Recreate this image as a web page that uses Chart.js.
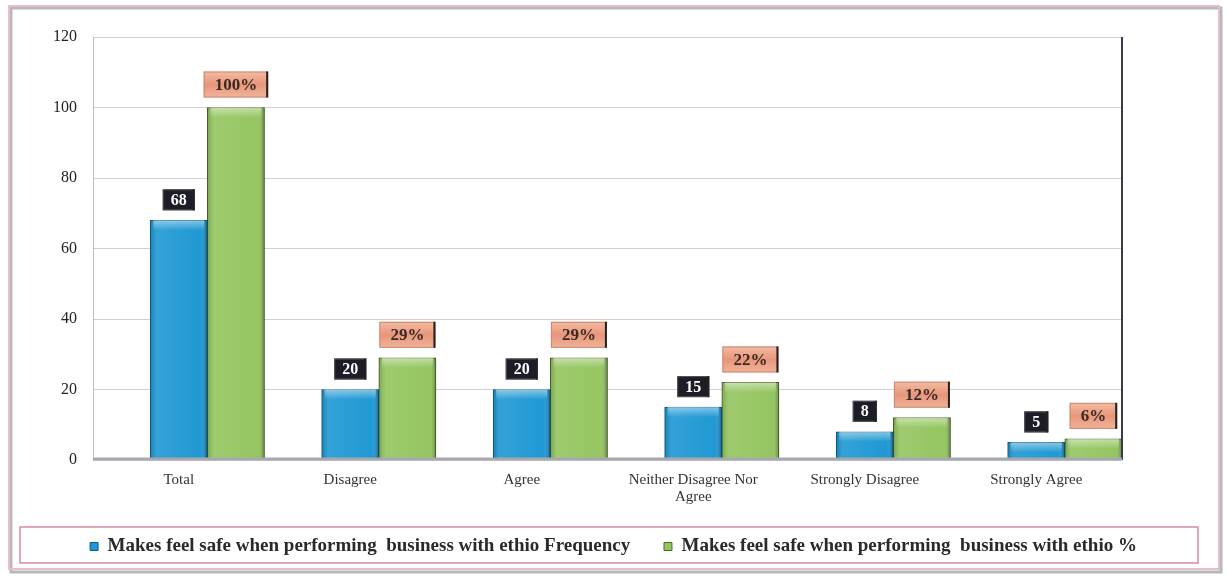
<!DOCTYPE html>
<html>
<head>
<meta charset="utf-8">
<script src="https://cdn.jsdelivr.net/npm/chart.js@4.4.1/dist/chart.umd.min.js"></script>
<style>
  html, body { margin: 0; padding: 0; background: #fff; }
  #wrap { position: relative; width: 1227px; height: 577px; }
</style>
</head>
<body>
<div id="wrap"><canvas id="myChart" width="1227" height="577"></canvas></div>
<script>
// data
const categories = ['Total', 'Disagree', 'Agree', ['Neither Disagree Nor', 'Agree'], 'Strongly Disagree', 'Strongly Agree'];
const frequency = [68, 20, 20, 15, 8, 5];
const percent = [100, 29, 29, 22, 12, 6];
const seriesNames = [
  'Makes feel safe when performing  business with ethio Frequency',
  'Makes feel safe when performing  business with ethio %',
];
const yTicks = [0, 20, 40, 60, 80, 100, 120];

const SERIF = '"Liberation Serif", "DejaVu Serif", serif';

// frame round the whole picture + box round the legend + plot right edge
const framePlugin = {
  id: 'frame',
  beforeDraw(chart) {
    const ctx = chart.ctx;
    ctx.save();
    ctx.fillStyle = '#fff';
    ctx.fillRect(0, 0, chart.width, chart.height);
    ctx.strokeStyle = '#b8b8b8';
    ctx.lineWidth = 3;
    ctx.strokeRect(11, 8, 1210, 564);
    ctx.strokeStyle = '#e7bfcc';
    ctx.lineWidth = 2;
    ctx.strokeRect(9, 6, 1210, 563);
    ctx.restore();
  },
  afterDraw(chart) {
    const ctx = chart.ctx;
    const a = chart.chartArea;
    ctx.save();
    // legend box
    ctx.strokeStyle = '#d88a9e';
    ctx.lineWidth = 1.5;
    ctx.strokeRect(20, 527, 1178, 36);
    // right edge of plot
    ctx.strokeStyle = '#3a3a48';
    ctx.lineWidth = 2;
    ctx.beginPath();
    ctx.moveTo(a.right, a.top);
    ctx.lineTo(a.right, a.bottom);
    ctx.stroke();
    // grey floor
    ctx.strokeStyle = '#a8a8b0';
    ctx.lineWidth = 3;
    ctx.beginPath();
    ctx.moveTo(a.left, a.bottom - 1);
    ctx.lineTo(a.right, a.bottom - 1);
    ctx.stroke();
    ctx.restore();
  },
};

// shading on the bars and the value boxes above them
const barLabels = {
  id: 'barLabels',
  afterDatasetsDraw(chart) {
    const ctx = chart.ctx;
    chart.data.datasets.forEach((ds, di) => {
      if (di === 0) return; // spacer slot
      const meta = chart.getDatasetMeta(di);
      meta.data.forEach((bar, i) => {
        const w = bar.width;
        const left = bar.x - w / 2;
        const h = bar.base - bar.y;
        // soft highlight, darker edges
        ctx.save();
        const g = ctx.createLinearGradient(left, 0, left + w, 0);
        g.addColorStop(0, 'rgba(0,0,0,0.18)');
        g.addColorStop(0.12, 'rgba(255,255,255,0.10)');
        g.addColorStop(0.5, 'rgba(255,255,255,0.06)');
        g.addColorStop(0.88, 'rgba(255,255,255,0.02)');
        g.addColorStop(1, 'rgba(0,0,0,0.35)');
        ctx.fillStyle = g;
        ctx.fillRect(left, bar.y, w, h);
        const t = ctx.createLinearGradient(0, bar.y, 0, bar.y + 10);
        t.addColorStop(0, 'rgba(255,255,255,0.45)');
        t.addColorStop(1, 'rgba(255,255,255,0)');
        ctx.fillStyle = t;
        ctx.fillRect(left + 3, bar.y, w - 6, Math.min(10, h));
        ctx.restore();

        // label box
        ctx.save();
        let text, bw, bh, fill, color;
        if (di === 1) {
          text = String(ds.data[i]);
          ctx.font = 'bold 16px ' + SERIF;
          bw = ctx.measureText(text).width + 16;
          bh = 21;
          fill = '#1d1d27';
          color = '#ffffff';
        } else {
          text = ds.data[i] + '%';
          ctx.font = 'bold 17px ' + SERIF;
          bw = ctx.measureText(text).width + 22;
          bh = 26;
          color = '#3a2a25';
        }
        const bx = bar.x - bw / 2;
        const by = bar.y - 10 - bh;
        if (di === 2) {
          const og = ctx.createLinearGradient(0, by, 0, by + bh);
          og.addColorStop(0, '#f3bca4');
          og.addColorStop(0.5, '#e8967a');
          og.addColorStop(1, '#f0b49a');
          fill = og;
        }
        ctx.fillStyle = fill;
        ctx.fillRect(bx, by, bw, bh);
        ctx.strokeStyle = di === 1 ? '#555' : '#c98870';
        ctx.lineWidth = 1;
        ctx.strokeRect(bx + 0.5, by + 0.5, bw - 1, bh - 1);
        ctx.fillStyle = '#222';
        ctx.fillRect(bx + bw - 2, by, 2, bh);
        ctx.fillStyle = color;
        ctx.textAlign = 'center';
        ctx.textBaseline = 'middle';
        ctx.fillText(text, bar.x, by + bh / 2 + 1);
        ctx.restore();
      });
    });
  },
};

const chart = new Chart(document.getElementById('myChart'), {
  type: 'bar',
  data: {
    labels: categories,
    datasets: [
      {
        // empty first slot, as in the original (bars sit right of the label)
        label: '',
        data: categories.map(() => null),
        backgroundColor: 'rgba(0,0,0,0)',
      },
      {
        label: seriesNames[0],
        data: frequency,
        backgroundColor: '#1c97d3',
        borderColor: '#0b5d86',
        borderWidth: 1,
        borderSkipped: 'bottom',
      },
      {
        label: seriesNames[1],
        data: percent,
        backgroundColor: '#93c55e',
        borderColor: '#4a6a2a',
        borderWidth: 1,
        borderSkipped: 'bottom',
      },
    ],
  },
  plugins: [framePlugin, barLabels],
  options: {
    responsive: false,
    animation: false,
    devicePixelRatio: 1,
    layout: { padding: { left: 0, right: 0, top: 37, bottom: 11 } },
    datasets: {
      bar: { barPercentage: 1, categoryPercentage: 1 },
    },
    plugins: {
      tooltip: { enabled: false },
      legend: {
        position: 'bottom',
        labels: {
          boxWidth: 8,
          boxHeight: 8,
          padding: 10,
          color: '#2a2a2a',
          font: { family: SERIF, size: 19, weight: 'bold' },
          filter: item => item.datasetIndex > 0,
          generateLabels(chart) {
            const items = Chart.defaults.plugins.legend.labels.generateLabels(chart);
            // a wider gap between the two entries, as in the original
            items.forEach(it => { if (it.datasetIndex === 1) it.text += '     '; });
            return items;
          },
        },
      },
    },
    scales: {
      x: {
        grid: { display: false },
        border: { display: false },
        ticks: {
          color: '#333',
          font: { family: SERIF, size: 15, lineHeight: 1.15 },
          padding: 3,
          maxRotation: 0,
          autoSkip: false,
        },
        afterFit(s) {
          s.height = 577 - 460 - 11 - s.chart.legend.height;
        },
      },
      y: {
        min: 0,
        max: 120,
        afterBuildTicks(s) {
          s.ticks = yTicks.map(v => ({ value: v }));
        },
        grid: { color: '#cfcfd6', lineWidth: 1, drawTicks: false },
        border: { display: true, color: '#b8bccb', width: 1 },
        ticks: {
          color: '#222',
          padding: 16,
          font: { family: SERIF, size: 16 },
        },
        afterFit(s) {
          s.width = 93;
        },
      },
      // empty margin on the right of the plot
      yRight: {
        position: 'right',
        grid: { display: false },
        border: { display: false },
        ticks: { display: false },
        afterFit(s) {
          s.width = 105;
        },
      },
    },
  },
});
</script>
</body>
</html>
